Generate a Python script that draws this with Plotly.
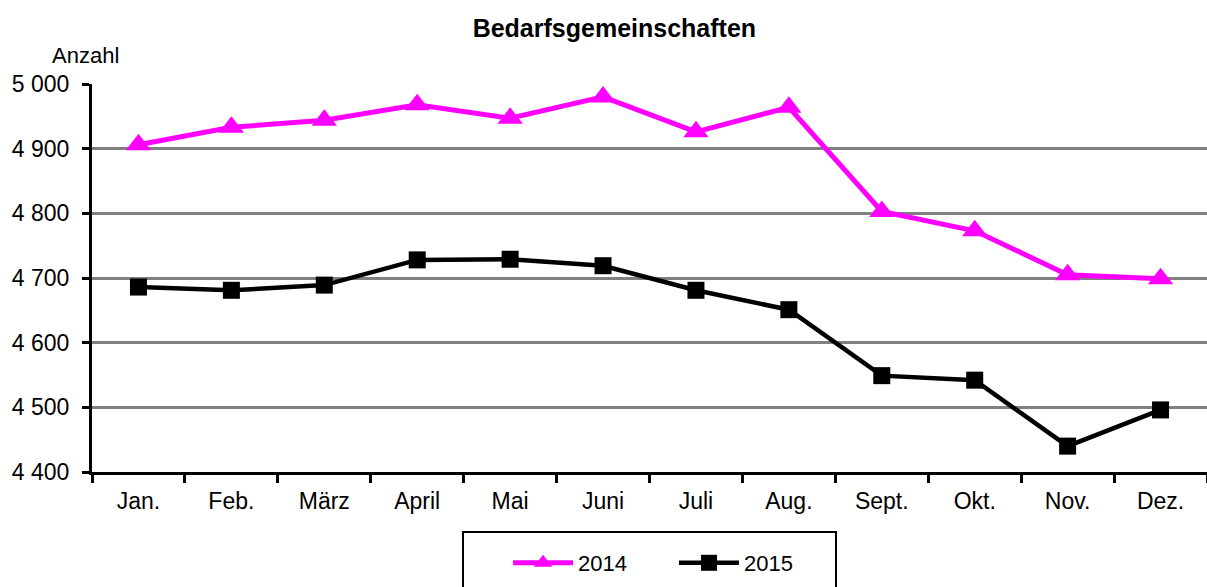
import plotly.graph_objects as go

months = ["Jan.", "Feb.", "März", "April", "Mai", "Juni", "Juli", "Aug.", "Sept.", "Okt.", "Nov.", "Dez."]
values_2014 = [4906, 4933, 4944, 4968, 4947, 4980, 4926, 4964, 4803, 4773, 4705, 4699]
values_2015 = [4686, 4681, 4689, 4728, 4729, 4719, 4681, 4651, 4549, 4542, 4440, 4496]
y_ticks = [4400, 4500, 4600, 4700, 4800, 4900, 5000]
y_labels = ["4 400", "4 500", "4 600", "4 700", "4 800", "4 900", "5 000"]

font = "Liberation Sans, Arial, sans-serif"

fig = go.Figure()
fig.add_trace(go.Scatter(
    x=months, y=values_2014, name="2014", mode="lines+markers",
    line=dict(color="#FF00FF", width=5),
    marker=dict(symbol="triangle-up", size=22, color="#FF00FF"),
))
fig.add_trace(go.Scatter(
    x=months, y=values_2015, name="2015", mode="lines+markers",
    line=dict(color="#000000", width=4.5),
    marker=dict(symbol="square", size=17, color="#000000"),
))

# legend frame
fig.add_shape(type="rect", xref="paper", yref="paper",
              x0=(463 - 92) / 1115, x1=(836 - 92) / 1115,
              y0=(472 - 532) / 388, y1=-0.4,
              line=dict(color="black", width=2), fillcolor="white", layer="below")

fig.update_layout(
    width=1207, height=587,
    margin=dict(l=92, r=0, t=84, b=115),
    paper_bgcolor="white", plot_bgcolor="white",
    font=dict(family=font, size=23, color="black"),
    title=dict(text="<b>Bedarfsgemeinschaften</b>", x=0.509, xanchor="center",
               y=1 - 28 / 587, yanchor="middle", font=dict(size=25)),
    showlegend=True,
    legend=dict(orientation="h", x=(508 - 92) / 1115, xanchor="left",
                y=(472 - 563) / 388, yanchor="middle",
                bgcolor="rgba(0,0,0,0)", font=dict(size=22),
                itemwidth=60, entrywidth=91, tracegroupgap=0),
    xaxis=dict(
        type="category", showgrid=False, showline=True, linecolor="black", linewidth=3,
        ticks="outside", tickson="boundaries", ticklen=8, tickwidth=3, tickcolor="black",
        tickfont=dict(size=23), ticklabelstandoff=6, range=[-0.5, 11.5],
    ),
    yaxis=dict(
        range=[4400, 5000], tickvals=y_ticks, ticktext=y_labels,
        showgrid=True, gridcolor="#808080", gridwidth=3,
        showline=True, linecolor="black", linewidth=3,
        ticks="outside", ticklen=7, tickwidth=3, tickcolor="black",
        tickfont=dict(size=23), ticklabelstandoff=8, zeroline=False,
    ),
    annotations=[dict(text="Anzahl", xref="paper", yref="paper",
                      x=-(92 - 50) / 1115, xanchor="left",
                      y=(472 - 55) / 388, yanchor="middle",
                      showarrow=False, font=dict(size=22))],
)

fig.write_html("out.html", config={"displayModeBar": False},
               post_script="document.body.style.margin='0';")
